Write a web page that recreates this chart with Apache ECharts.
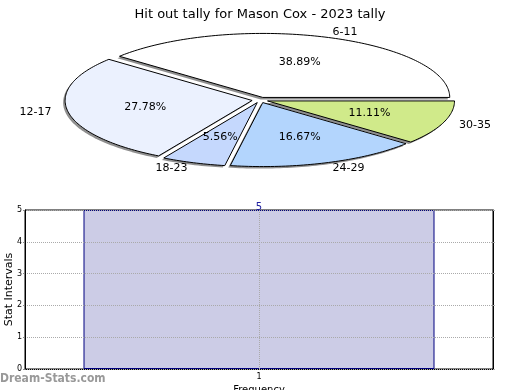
<!DOCTYPE html>
<html><head><meta charset="utf-8">
<script src="https://cdn.jsdelivr.net/npm/echarts/dist/echarts.min.js"></script>
<style>html,body{margin:0;padding:0;background:#fff}#c{width:520px;height:390px}</style>
</head><body><div id="c"></div>
<script>
// Pie data: hit-out tally intervals and counts
const categories = ['6-11', '12-17', '18-23', '24-29', '30-35'];
const counts = [7, 5, 1, 3, 2];
const sliceColors = ['#ffffff', '#ebf1fe', '#c5d8fd', '#b3d5fd', '#d0ea8a'];
// Bar data
const freqCategories = ['1'];
const freqValues = [5];

const total = counts.reduce((a, b) => a + b, 0);
const starts = [];
(function () { let acc = 0; counts.forEach(v => { starts.push(acc); acc += v; }); })();

const FONT = 'DejaVu Sans, sans-serif';

function renderSlice(params, api) {
  const i = params.dataIndex;
  const v = api.value(0);
  const a0 = starts[i] / total * 2 * Math.PI;
  const a1 = (starts[i] + v) / total * 2 * Math.PI;
  const m = (a0 + a1) / 2;
  const cx = 260, cy = 100, rx = 187, ry = 64;
  const s = ry / rx;
  const ex = 8;
  const ox = cx + ex * Math.cos(m), oy = cy - ex * s * Math.sin(m);
  const pts = [[ox, oy]];
  const n = Math.max(8, Math.ceil((a1 - a0) / 0.02));
  for (let k = 0; k <= n; k++) {
    const t = a0 + (a1 - a0) * k / n;
    pts.push([ox + rx * Math.cos(t), oy - ry * Math.sin(t)]);
  }
  const shadowPts = pts.map(p => [p[0] - 2, p[1] + 2]);
  const pct = (v / total * 100).toFixed(2) + '%';
  const lk = 1.09;
  return {
    type: 'group',
    children: [
      { type: 'polygon', shape: { points: shadowPts }, z2: 0,
        style: { fill: '#8f8f8f', stroke: null } },
      { type: 'polygon', shape: { points: pts }, z2: 1,
        style: { fill: sliceColors[i], stroke: '#000', lineWidth: 1 } },
      { type: 'text', x: ox + 0.58 * rx * Math.cos(m), y: oy - 0.58 * ry * Math.sin(m), z2: 10,
        style: { text: pct, align: 'center', verticalAlign: 'middle', font: '11px ' + FONT, fill: '#000' } },
      { type: 'text', x: ox + lk * rx * Math.cos(m), y: oy - lk * ry * Math.sin(m), z2: 10,
        style: { text: categories[i], align: Math.cos(m) >= 0 ? 'left' : 'right', verticalAlign: 'middle',
          font: '11px ' + FONT, fill: '#000' } }
    ]
  };
}

const chart = echarts.init(document.getElementById('c'), null, { renderer: 'canvas' });
chart.setOption({
  animation: false,
  backgroundColor: '#fff',
  title: { text: 'Hit out tally for Mason Cox - 2023 tally', left: 'center', top: 3,
    textStyle: { fontFamily: FONT, fontSize: 13, fontWeight: 'normal', color: '#000' } },
  graphic: [
    { type: 'text', left: 0, top: 373, z: 100,
      style: { text: 'Dream-Stats.com', font: 'bold 12px "DejaVu Sans Condensed", DejaVu Sans, sans-serif', fill: '#999999' } }
  ],
  grid: { left: 25, right: 27, top: 210, bottom: 21, outerBoundsMode: 'none', containLabel: false,
    show: true, borderColor: '#000', borderWidth: 1, backgroundColor: 'transparent' },
  xAxis: {
    type: 'category', data: freqCategories,
    name: 'Frequency', nameLocation: 'middle', nameGap: 16, nameMoveOverlap: false,
    nameTextStyle: { fontFamily: FONT, fontSize: 10, color: '#000' },
    axisLine: { lineStyle: { color: '#000' } },
    axisTick: { show: false },
    axisLabel: { fontFamily: FONT, fontSize: 8, color: '#000', margin: 4 },
    splitLine: { show: false }
  },
  yAxis: [{
    type: 'value', min: 0, max: 5, interval: 1, z: 3,
    name: 'Stat Intervals', nameLocation: 'middle', nameGap: 10, nameRotate: 90, nameMoveOverlap: false,
    nameTextStyle: { fontFamily: FONT, fontSize: 11, color: '#000' },
    axisLine: { show: true, lineStyle: { color: '#000' } },
    axisTick: { show: true, length: 2, lineStyle: { color: '#888' } },
    axisLabel: { fontFamily: FONT, fontSize: 8, color: '#000', margin: 3 },
    splitLine: { show: true, lineStyle: { type: 'dotted', color: '#aaa' } }
  }, {
    type: 'value', min: 0, max: 5, interval: 1, position: 'right',
    axisLine: { show: true, lineStyle: { color: '#000' } },
    axisTick: { show: true, length: 2, lineStyle: { color: '#aaa' } },
    axisLabel: { show: false },
    splitLine: { show: false }
  }],
  series: [
    { type: 'custom', coordinateSystem: 'none', renderItem: renderSlice, data: counts, silent: true },
    { type: 'bar', data: freqValues, barWidth: '75%',
      itemStyle: { color: '#ccccE6', borderColor: '#000080', borderWidth: 1 },
      label: { show: true, position: 'top', distance: -2, fontFamily: FONT, fontSize: 10, color: '#2020a0' },
      markLine: { silent: true, symbol: 'none', label: { show: false },
        lineStyle: { type: 'dotted', color: '#aaa', width: 1 },
        data: [{ xAxis: 0 }] } }
  ]
});
</script></body></html>
